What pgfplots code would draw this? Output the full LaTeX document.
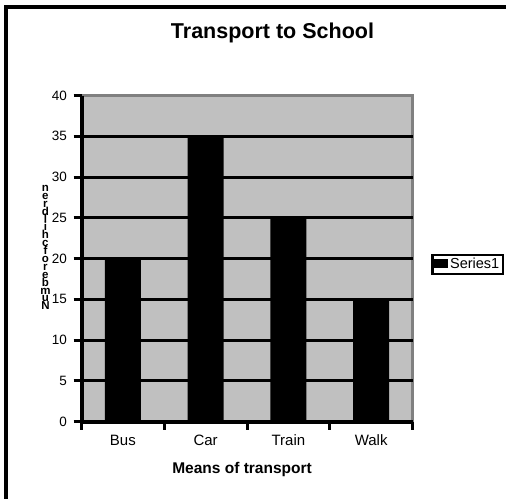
\documentclass[border=0pt]{standalone}
\usepackage{fontspec}
\setmainfont{Liberation Sans}
\usepackage{pgfplots}
\pgfplotsset{compat=1.18}
\definecolor{plotgray}{HTML}{C0C0C0}
\definecolor{bordergray}{HTML}{808080}
\newcommand{\stackfont}{\bfseries\fontsize{11.5bp}{7.9bp}\selectfont\lineskiplimit=-100bp\relax}
\begin{document}
\begin{tikzpicture}[x=1bp,y=1bp]
\useasboundingbox (0,0) rectangle (506,499);
\fill[white] (0,0) rectangle (506,499);
\draw[line width=4bp,black] (6,0) -- (6,492) -- (506,492);
\begin{axis}[
  at={(98.5,95)}, anchor=south west,
  scale only axis, width=331bp, height=326bp,
  xmin=0.5, xmax=4.5, ymin=0, ymax=40,
  axis x line=bottom, axis y line=left,
  axis line style={line width=4bp, black, -},
  axis background/.style={fill=plotgray, draw=bordergray, line width=3bp},
  xtick={0.5,1.5,2.5,3.5,4.5}, xticklabels={},
  extra x ticks={1,2,3,4},
  extra x tick labels={Bus,Car,Train,Walk},
  extra x tick style={major tick length=0pt},
  ytick={0,5,...,40},
  minor ytick={5,10,...,35},
  yminorgrids=true,
  minor grid style={line width=3bp, black},
  minor tick length=0pt,
  tick align=outside,
  major tick length=8bp,
  tick style={line width=3bp, black},
  /pgf/number format/assume math mode=true,
  yticklabel style={font=\fontsize{13.5bp}{15bp}\selectfont, xshift=-3bp},
  xticklabel style={font=\fontsize{15bp}{17bp}\selectfont, yshift=-10bp},
  title={\textbf{Transport to School}},
  title style={at={(axis description cs:0.577,1.156)}, anchor=base, font=\fontsize{21.5bp}{24bp}\selectfont},
  xlabel={\textbf{Means of transport}},
  xlabel style={at={(axis description cs:0.485,-0.159)}, anchor=base, font=\fontsize{15.5bp}{18bp}\selectfont},
  ylabel={n\\e\\r\\d\\l\\i\\h\\c\\f\\o\\r\\e\\b\\m\\u\\N},
  ylabel style={rotate=-90, at={(axis description cs:-0.109,0.534)}, anchor=center, align=center,
    font=\stackfont},
  legend style={at={(axis description cs:1.057,0.515)}, anchor=north west,
    draw=black, line width=2.5bp, fill=white,
    font=\fontsize{14.5bp}{16bp}\selectfont, inner sep=1.5bp},
  legend image code/.code={\fill[black,draw=none] (0bp,-4bp) rectangle (14bp,5bp);},
]
\addplot[ybar, bar width=36bp, fill=black, draw=none] coordinates {(1,20) (2,35) (3,25) (4,15)};
\addlegendentry{Series1}
\end{axis}
\end{tikzpicture}
\end{document}
